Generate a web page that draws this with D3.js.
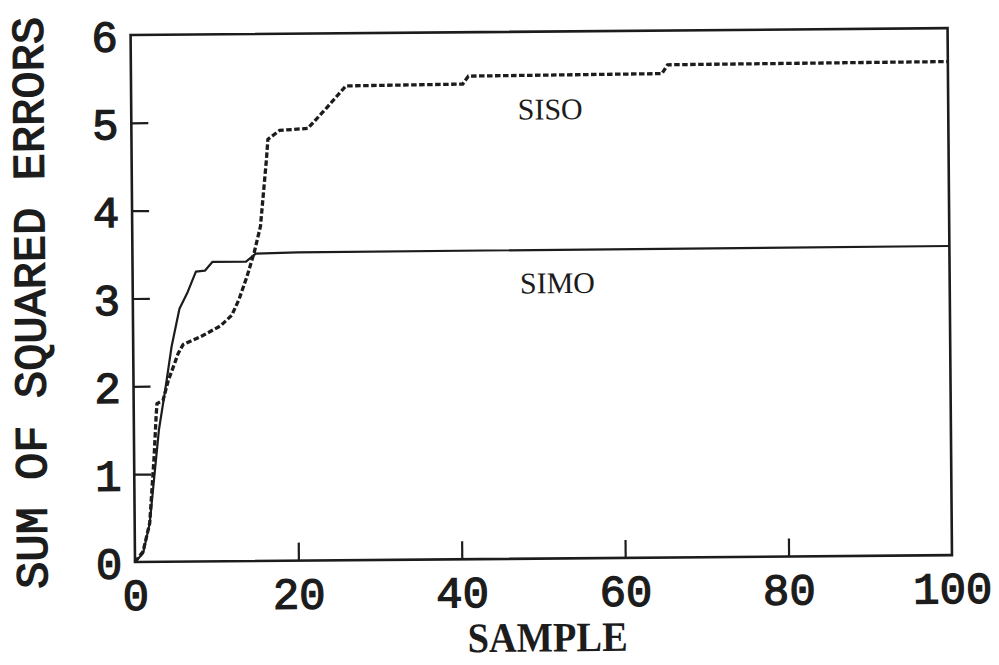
<!DOCTYPE html>
<html>
<head>
<meta charset="utf-8">
<script src="https://cdn.jsdelivr.net/npm/d3@7"></script>
<style>
  html, body { margin: 0; padding: 0; background: #fff; }
  svg { display: block; }
</style>
</head>
<body>
<div id="chart"></div>
<script>
// ---- data ----
const xTicks = [0, 20, 40, 60, 80, 100];
const yTicks = [0, 1, 2, 3, 4, 5, 6];

const simoX = [0, 1.0, 1.84, 2.45, 3.06, 3.88, 4.7, 5.7, 6.73, 7.75, 8.85, 9.8, 13.9, 15.1, 20.2, 100];
const simoY = [0, 0.1, 0.44, 0.97, 1.5, 1.96, 2.45, 2.88, 3.07, 3.30, 3.31, 3.41, 3.41, 3.50, 3.51, 3.52];

const sisoX = [0, 1.0, 1.84, 2.45, 2.73, 2.85, 3.6, 4.28, 4.9, 5.5, 6.1, 6.8, 8.3, 9.5, 10.7, 12.1, 13.0, 14.0, 14.9, 15.7, 16.1, 16.5, 16.7, 18.15, 21.6, 23.9, 26.3, 40.6, 41.3, 65.0, 65.7, 100];
const sisoY = [0, 0.12, 0.44, 1.2, 1.65, 1.80, 1.84, 2.07, 2.22, 2.37, 2.47, 2.5, 2.56, 2.62, 2.68, 2.8, 2.98, 3.24, 3.51, 3.81, 4.19, 4.57, 4.8, 4.9, 4.92, 5.15, 5.4, 5.41, 5.5, 5.51, 5.61, 5.62];

const seriesNames = ["SISO", "SIMO"];
const labelX = [47.3, 47.4];
const labelY = [5.0, 3.02];

const xTitle = "SAMPLE";
const yTitle = "SUM OF SQUARED ERRORS";

// ---- layout ----
const W = 999, H = 665;
const mLeft = 135, mTop = 35, mRight = 952, mBottom = 562;
const ink = "#1c1c1c";
const monoFont = "'Liberation Mono', 'Courier New', monospace";
const serifFont = "'Liberation Serif', 'Times New Roman', serif";

const svg = d3.select("#chart").append("svg")
  .attr("width", W).attr("height", H);
svg.append("rect").attr("width", W).attr("height", H).attr("fill", "#fff");

// the scanned figure is very slightly rotated
const g = svg.append("g").attr("transform", `rotate(-0.48, ${mLeft}, ${mBottom})`);

const x = d3.scaleLinear().domain([0, 100]).range([mLeft, mRight]);
const y = d3.scaleLinear().domain([0, 6]).range([mBottom, mTop]);

// frame
g.append("rect")
  .attr("x", mLeft).attr("y", mTop)
  .attr("width", mRight - mLeft).attr("height", mBottom - mTop)
  .attr("fill", "none").attr("stroke", ink).attr("stroke-width", 2.6);

// y axis (ticks inside)
const yAxis = d3.axisLeft(y).tickValues(yTicks).tickSize(-17).tickPadding(28)
  .tickFormat(d3.format("d"));
const ya = g.append("g").attr("transform", `translate(${mLeft},0)`).call(yAxis);
ya.select(".domain").remove();
ya.selectAll(".tick line").attr("stroke", ink).attr("stroke-width", 2.2)
  .filter(d => d === 0 || d === 6).remove();
ya.selectAll(".tick text")
  .attr("font-family", monoFont)
  .attr("font-size", 44).attr("fill", ink)
  .attr("stroke", ink).attr("stroke-width", 1.3)
  .attr("text-anchor", "middle").attr("x", -26).attr("dy", "0.36em");

// x axis (ticks inside)
const xAxis = d3.axisBottom(x).tickValues(xTicks).tickSize(-18).tickPadding(30)
  .tickFormat(d3.format("d"));
const xa = g.append("g").attr("transform", `translate(0,${mBottom})`).call(xAxis);
xa.select(".domain").remove();
xa.selectAll(".tick line").attr("stroke", ink).attr("stroke-width", 2.2)
  .filter(d => d === 0 || d === 100).remove();
xa.selectAll(".tick text")
  .attr("font-family", monoFont)
  .attr("font-size", 44).attr("fill", ink)
  .attr("stroke", ink).attr("stroke-width", 1.3)
  .attr("y", 48).attr("dy", 0);

// lines
const line = d3.line().x(d => x(d[0])).y(d => y(d[1]));
const simo = simoX.map((v, i) => [v, simoY[i]]);
const siso = sisoX.map((v, i) => [v, sisoY[i]]);

g.append("path").datum(simo).attr("d", line)
  .attr("fill", "none").attr("stroke", ink).attr("stroke-width", 2.2)
  .attr("stroke-linejoin", "round");

g.append("path").datum(siso).attr("d", line)
  .attr("fill", "none").attr("stroke", ink).attr("stroke-width", 3.3)
  .attr("stroke-dasharray", "5.5,2.5");

// series labels
g.selectAll("text.series").data(seriesNames).enter().append("text")
  .attr("class", "series")
  .attr("x", (d, i) => x(labelX[i])).attr("y", (d, i) => y(labelY[i]))
  .attr("font-family", serifFont)
  .attr("font-size", 30).attr("fill", ink)
  .text(d => d);

// axis titles
g.append("text")
  .attr("x", 547).attr("y", 655).attr("text-anchor", "middle")
  .attr("font-family", serifFont)
  .attr("font-weight", "bold").attr("font-size", 42).attr("fill", ink)
  .attr("textLength", 160).attr("lengthAdjust", "spacingAndGlyphs")
  .text(xTitle);

g.append("text")
  .attr("transform", "translate(47,302) rotate(-90)")
  .attr("text-anchor", "middle")
  .attr("font-family", monoFont)
  .attr("font-size", 45).attr("fill", ink)
  .attr("stroke", ink).attr("stroke-width", 1.4)
  .attr("textLength", 572).attr("lengthAdjust", "spacingAndGlyphs")
  .text(yTitle);
</script>
</body>
</html>
